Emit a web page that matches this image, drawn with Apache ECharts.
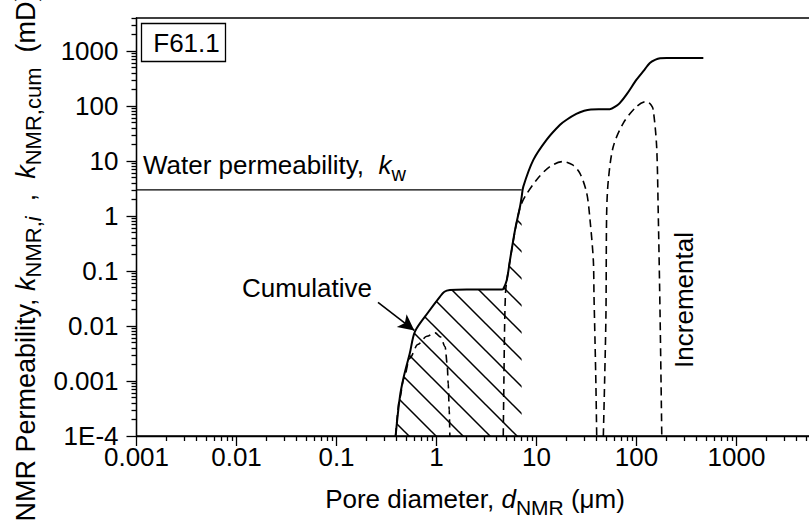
<!DOCTYPE html>
<html><head><meta charset="utf-8">
<script src="https://cdn.jsdelivr.net/npm/echarts@6/dist/echarts.min.js"></script>
<style>html,body{margin:0;padding:0;background:#fff}#c{width:809px;height:528px}</style>
</head><body><div id="c"></div>
<script>
// ---- data ----
const cumX = [0.39, 0.43, 0.47, 0.54, 0.61, 0.83, 1.08, 1.2, 1.36, 2.0, 3.0, 4.5, 4.65, 5.04, 5.43, 6.1, 6.84, 7.1, 7.38, 9.3, 12.6, 17.2, 20, 25, 30, 35, 45, 54, 63, 68, 80, 100, 120, 136, 155, 172, 200, 300, 466];
const cumY = [1e-4, 5.1e-4, 1.18e-3, 3.15e-3, 8.0e-3, 0.018, 0.034, 0.042, 0.045, 0.046, 0.046, 0.046, 0.047, 0.068, 0.158, 0.557, 1.48, 2.2, 3.43, 10.5, 24.3, 45.7, 56.4, 72, 82, 86.5, 87.5, 88, 101, 113, 165, 302, 457, 609, 700, 742, 750, 750, 750];

const inc1X = [0.39, 0.43, 0.47, 0.54, 0.65, 0.8, 0.97, 1.1, 1.22, 1.28, 1.31, 1.34, 1.36];
const inc1Y = [1e-4, 5e-4, 1.1e-3, 2.6e-3, 4.6e-3, 6.5e-3, 7.5e-3, 6.3e-3, 4.2e-3, 2e-3, 8.9e-4, 3e-4, 1e-4];

const inc2X = [4.65, 4.72, 4.8, 4.9, 5.04, 5.43, 6.1, 6.84, 7.67, 10, 13.6, 18.5, 23, 27.2, 31.8, 34.3, 37, 37.6, 38.5, 39.3, 40];
const inc2Y = [1e-4, 1e-3, 0.01, 0.04, 0.066, 0.155, 0.54, 1.42, 2.25, 4.54, 7.94, 9.8, 8.5, 6.0, 2.6, 0.847, 0.158, 0.034, 5e-3, 8e-4, 1e-4];

const inc3X = [46.6, 48, 49.5, 50.3, 52.3, 58.6, 73.8, 100.5, 126.5, 140, 147, 159, 165, 172, 179];
const inc3Y = [1e-4, 1e-3, 0.0169, 1.12, 4.54, 18.4, 49.1, 98.6, 121.6, 105, 85.8, 18.4, 1.12, 0.0169, 1e-4];

const waterX = [0.001, 7.1];
const waterY = [3, 3];
const hatchMaxX = 7.1;

const xTicks = [0.001, 0.01, 0.1, 1, 10, 100, 1000, 10000];
const xLabelValues = [0.001, 0.01, 0.1, 1, 10, 100, 1000];
const xTickLabels = ['0.001', '0.01', '0.1', '1', '10', '100', '1000'];
const yTicks = [1e-4, 1e-3, 0.01, 0.1, 1, 10, 100, 1000];
const yTickLabels = ['1E-4', '0.001', '0.01', '0.1', '1', '10', '100', '1000'];

// ---- helpers ----
const pairs = (xs, ys) => xs.map((x, i) => [x, ys[i]]);
function minorTicks(lo, hi) {
  const out = [];
  for (let e = Math.floor(Math.log10(lo)); e <= Math.ceil(Math.log10(hi)); e++) {
    for (let m = 2; m <= 9; m++) { const v = m * Math.pow(10, e); if (v >= lo && v <= hi) out.push(+v.toPrecision(6)); }
  }
  return out;
}
function hatchCanvas() {
  const s = 27, c = document.createElement('canvas'); c.width = s; c.height = s;
  const g = c.getContext('2d'); g.strokeStyle = '#000'; g.lineWidth = 1.5; g.lineCap = 'square';
  g.beginPath(); g.moveTo(-3, -3); g.lineTo(s + 3, s + 3);
  g.moveTo(-3, s - 3); g.lineTo(3, s + 3);
  g.moveTo(s - 3, -3); g.lineTo(s + 3, 3);
  g.stroke();
  return c;
}
const FONT = 'Liberation Sans, Arial, sans-serif';
const fmt = (ticks, labels) => v => { const i = ticks.findIndex(t => Math.abs(Math.log10(t) - Math.log10(v)) < 1e-6); return i >= 0 ? labels[i] : ''; };

const X_MIN = 0.001, X_MAX = 10000, Y_MIN = 1e-4, Y_MAX = 4000;
const axisLineStyle = { color: '#000', width: 1.3 };
const dashed = { color: '#000', width: 1.6, type: [8, 5] };
const richBase = (fs, sfs, lh) => ({
  n: { fontFamily: FONT, fontSize: fs, color: '#000', lineHeight: lh, verticalAlign: 'middle' },
  i: { fontFamily: FONT, fontSize: fs, fontStyle: 'italic', color: '#000', lineHeight: lh, verticalAlign: 'middle' },
  s: { fontFamily: FONT, fontSize: sfs, color: '#000', lineHeight: lh, verticalAlign: 'bottom' },
  si: { fontFamily: FONT, fontSize: sfs, fontStyle: 'italic', color: '#000', lineHeight: lh, verticalAlign: 'bottom' }
});

const chart = echarts.init(document.getElementById('c'), null, { renderer: 'svg' });
const hatchImg = hatchCanvas();

chart.setOption({
  animation: false,
  backgroundColor: '#fff',
  grid: { left: 136.5, right: -27.5, top: 18, bottom: 92, outerBoundsMode: 'none', containLabel: false,
          show: true, borderColor: '#000', borderWidth: 1.3, backgroundColor: 'transparent' },
  xAxis: [
    {
      type: 'log', min: X_MIN, max: X_MAX, position: 'bottom',
      axisLine: { lineStyle: axisLineStyle },
      axisTick: { inside: false, length: 10, lineStyle: axisLineStyle, customValues: xTicks },
      axisLabel: { customValues: xLabelValues, formatter: fmt(xLabelValues, xTickLabels), color: '#000', fontFamily: FONT, fontSize: 26, margin: 8, hideOverlap: false },
      splitLine: { show: false },
      name: '{n|Pore diameter, }{i|d}{s|NMR}{n| (μm)}',
      nameLocation: 'middle', nameGap: 44, nameMoveOverlap: false,
      nameTextStyle: { padding: [0, 23, 0, 0], rich: richBase(26, 21, 38) }
    },
    {
      type: 'log', min: X_MIN, max: X_MAX, position: 'bottom', offset: 0,
      axisLine: { show: false },
      axisTick: { inside: false, length: 5, lineStyle: axisLineStyle, customValues: minorTicks(X_MIN, X_MAX) },
      axisLabel: { show: false }, splitLine: { show: false }
    }
  ],
  yAxis: [
    {
      type: 'log', min: Y_MIN, max: Y_MAX, position: 'left',
      axisLine: { lineStyle: axisLineStyle },
      axisTick: { inside: false, length: 10, lineStyle: axisLineStyle, customValues: yTicks },
      axisLabel: { customValues: yTicks, formatter: fmt(yTicks, yTickLabels), color: '#000', fontFamily: FONT, fontSize: 26, margin: 18, hideOverlap: false },
      splitLine: { show: false },
      name: '{n|NMR Permeability, }{i|k}{s|NMR,}{si|i}{n|  ,  }{i|k}{s|NMR,cum}{n|  (mD)}',
      nameLocation: 'middle', nameGap: 92, nameRotate: 90, nameMoveOverlap: false,
      nameTextStyle: { padding: [0, 60, 0, 0], rich: richBase(27, 22, 38) }
    },
    {
      type: 'log', min: Y_MIN, max: Y_MAX, position: 'left', offset: 0,
      axisLine: { show: false },
      axisTick: { inside: false, length: 5, lineStyle: axisLineStyle, customValues: minorTicks(Y_MIN, Y_MAX) },
      axisLabel: { show: false }, splitLine: { show: false }
    }
  ],
  series: [
    {
      name: 'hatch', type: 'line', xAxisIndex: 0, yAxisIndex: 0, silent: true,
      data: pairs(cumX, cumY).filter(p => p[0] <= hatchMaxX),
      smooth: 0.3, smoothMonotone: 'x', showSymbol: false, symbol: 'none',
      lineStyle: { width: 0, opacity: 0 },
      areaStyle: { origin: 'start', opacity: 1, color: { image: hatchImg, repeat: 'repeat', imageWidth: 27, imageHeight: 27 } },
      z: 1
    },
    {
      name: 'Water permeability', type: 'line', data: pairs(waterX, waterY), symbol: 'none',
      lineStyle: { color: '#000', width: 1.4 }, z: 3
    },
    {
      name: 'Incremental 1', type: 'line', data: pairs(inc1X, inc1Y), symbol: 'none',
      smooth: 0.3, smoothMonotone: 'x', lineStyle: dashed, z: 3
    },
    {
      name: 'Incremental 2', type: 'line', data: pairs(inc2X, inc2Y), symbol: 'none',
      smooth: 0.3, lineStyle: dashed, z: 3
    },
    {
      name: 'Incremental 3', type: 'line', data: pairs(inc3X, inc3Y), symbol: 'none',
      smooth: 0.3, lineStyle: dashed, z: 3
    },
    {
      name: 'Cumulative', type: 'line', data: pairs(cumX, cumY), symbol: 'none',
      smooth: 0.3, lineStyle: { color: '#000', width: 2 }, z: 4,
      markLine: {
        silent: true, animation: false,
        symbol: ['none', 'arrow'], symbolSize: [12, 16],
        lineStyle: { color: '#000', width: 1.6, type: 'solid' },
        label: { show: false },
        data: [[{ coord: [0.26, 0.027] }, { coord: [0.6, 0.0083] }]]
      }
    }
  ],
  graphic: [
    { type: 'rect', shape: { x: 141.5, y: 23.5, width: 84, height: 38 }, style: { fill: '#fff', stroke: '#000', lineWidth: 1.3 }, z: 10 },
    { type: 'text', x: 186.5, y: 43, style: { text: 'F61.1', fontFamily: FONT, fontSize: 26, fill: '#000', align: 'center', verticalAlign: 'middle' }, z: 11 },
    { type: 'text', x: 143, y: 165, style: {
        text: '{n|Water permeability,  }{i|k}{s|w}', align: 'left', verticalAlign: 'middle',
        rich: {
          n: { fontFamily: FONT, fontSize: 26, fill: '#000', lineHeight: 38, verticalAlign: 'middle' },
          i: { fontFamily: FONT, fontSize: 26, fontStyle: 'italic', fill: '#000', lineHeight: 38, verticalAlign: 'middle' },
          s: { fontFamily: FONT, fontSize: 20, fill: '#000', lineHeight: 38, verticalAlign: 'bottom' }
        } }, z: 11 },
    { type: 'text', x: 307, y: 288, style: { text: 'Cumulative', fontFamily: FONT, fontSize: 26, fill: '#000', align: 'center', verticalAlign: 'middle' }, z: 11 },
    { type: 'text', x: 684, y: 300, rotation: Math.PI / 2, style: { text: 'Incremental', fontFamily: FONT, fontSize: 26, fill: '#000', align: 'center', verticalAlign: 'middle' }, z: 11 }
  ]
});
</script>
</body></html>
